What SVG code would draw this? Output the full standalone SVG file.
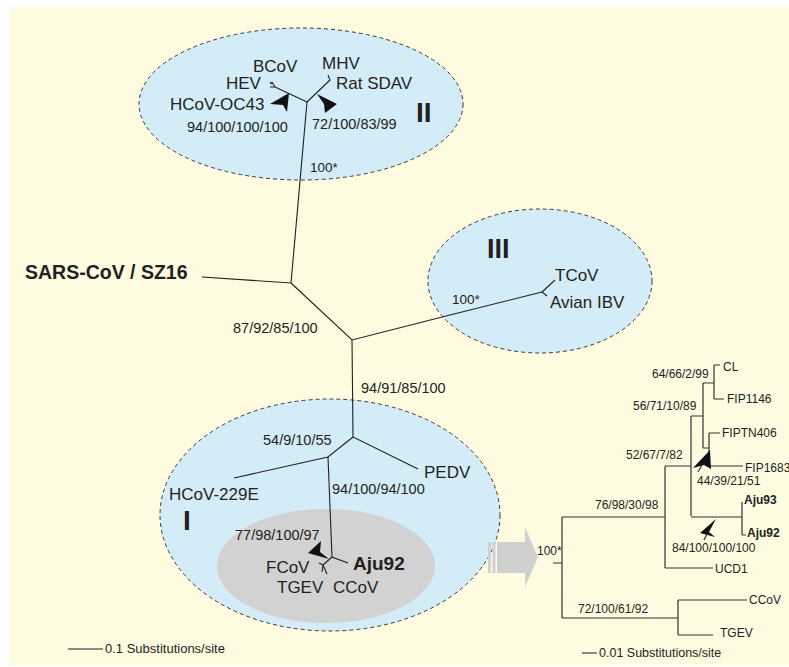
<svg xmlns="http://www.w3.org/2000/svg" width="789" height="667" viewBox="0 0 789 667">
<defs>
<style>
.t{font-family:"Liberation Sans",Arial,sans-serif;fill:#231f20}
.n{font-size:17px}
.s{font-size:14.5px}
.r{font-size:12px}
.b{font-weight:bold}
.br{fill:none;stroke:#231f20;stroke-width:1.1}
.rt{fill:none;stroke:#333;stroke-width:1.2}
.cl{fill:#d3ecf8;stroke:#3a3a3a;stroke-width:1;stroke-dasharray:4 3}
.ah{fill:#111}
</style>
</defs>
<rect x="10" y="7" width="779" height="658" fill="#fffbe1"/>
<g id="cluster-II"><ellipse class="cl" cx="301" cy="104" rx="162" ry="76"/></g>
<g id="cluster-III"><ellipse class="cl" cx="540" cy="281" rx="112" ry="72"/></g>
<g id="cluster-I"><ellipse class="cl" cx="330" cy="515" rx="170" ry="116"/>
<ellipse cx="326" cy="566" rx="109" ry="57" fill="#d2d2d2"/></g>
<g id="gray-arrow" fill="#d0d0d0">
<rect x="488" y="542" width="3" height="31"/>
<rect x="492.5" y="542" width="3" height="31"/>
<path d="M497 542H525V527L538 557L525 587V573H497Z"/>
</g>
<g id="connectors">
<path class="br" d="M202 277L291 283L307 102M291 283L352 340L450 315L542 292M352 340L353 437L418 469M353 437L328 457L234 478M328 457L332 557L348 563"/>
<path class="br" d="M307 102L275 87M275 87L272 82M275 87L270 87M272 84L270 82M307 102L330 80L328 75M542 292L555 280M542 292L547 296M332 557L323 565L319 563M323 565L322 572M323 565L327 574"/>
<path class="ah" d="M270 104L289 93L287 112L283 105Z"/>
<path class="ah" d="M317 94L337 104L325 113L324 104Z"/>
<path class="ah" d="M329 559L308 553L321 541L320 552Z"/>
<path class="rt" d="M553 563H562M562 517V618M562 517H665M665 466V568M665 568H713M665 466H691M691 416V516M691 416H703M703 383V448M703 383H714M714 365V399M714 365H720M714 399H724M703 448H709M709 433V466M709 433H720M709 466H743M691 517H742M742 502V535M742 535H746M562 618H678M678 600V635M678 600H747M678 635H713"/>
<path class="ah" d="M693 468L710 450L711 469L704 465Z"/>
<path class="rt" d="M702 465L698 472"/>
<path class="ah" d="M716 519L700 533L715 537L709 532Z"/>
<path class="rt" d="M707 534L704 540"/>
<path d="M68 649H103M582 653H597" stroke="#666" stroke-width="1.3"/>
</g>
<g id="labels">
<text class="t n" x="253" y="72">BCoV</text>
<text class="t n" x="226" y="89">HEV</text>
<text class="t n" x="170" y="110">HCoV-OC43</text>
<text class="t n" x="322" y="69">MHV</text>
<text class="t n" x="336" y="89">Rat SDAV</text>
<text class="t s" x="187" y="132">94/100/100/100</text>
<text class="t s" x="312" y="129">72/100/83/99</text>
<text class="t b" font-size="28" x="416" y="122">II</text>
<text class="t" font-size="13.5" x="310" y="172">100*</text>
<text class="t b" font-size="19.5" x="25" y="279">SARS-CoV / SZ16</text>
<text class="t b" font-size="27" x="487" y="258">III</text>
<text class="t n" x="555" y="281">TCoV</text>
<text class="t n" x="550" y="308">Avian IBV</text>
<text class="t" font-size="13.5" x="452" y="304">100*</text>
<text class="t s" x="233" y="333">87/92/85/100</text>
<text class="t s" x="361" y="393">94/91/85/100</text>
<text class="t s" x="263" y="445">54/9/10/55</text>
<text class="t n" x="424" y="478">PEDV</text>
<text class="t n" x="169" y="500">HCoV-229E</text>
<text class="t s" x="332" y="494">94/100/94/100</text>
<text class="t b" font-size="28" x="183" y="530">I</text>
<text class="t s" x="235" y="540">77/98/100/97</text>
<text class="t n" x="266" y="573">FCoV</text>
<text class="t b" font-size="19" x="353" y="570">Aju92</text>
<text class="t n" x="277" y="593">TGEV</text>
<text class="t n" x="333" y="593">CCoV</text>
<text class="t r" x="723" y="371">CL</text>
<text class="t r" x="652" y="378">64/66/2/99</text>
<text class="t r" x="727" y="403">FIP1146</text>
<text class="t r" x="633" y="410">56/71/10/89</text>
<text class="t r" x="722" y="437">FIPTN406</text>
<text class="t r" x="626" y="459">52/67/7/82</text>
<text class="t r" x="745" y="472">FIP1683</text>
<text class="t r" x="697" y="485">44/39/21/51</text>
<text class="t r b" x="744" y="504">Aju93</text>
<text class="t r" x="595" y="509">76/98/30/98</text>
<text class="t r b" x="747" y="537">Aju92</text>
<text class="t r" x="672" y="552">84/100/100/100</text>
<text class="t r" x="537" y="555">100*</text>
<text class="t r" x="715" y="573">UCD1</text>
<text class="t r" x="749" y="604">CCoV</text>
<text class="t r" x="578" y="613">72/100/61/92</text>
<text class="t r" x="720" y="637">TGEV</text>
<text class="t" font-size="13" x="105" y="653">0.1 Substitutions/site</text>
<text class="t" font-size="12.5" x="599" y="657">0.01 Substitutions/site</text>
</g>
</svg>
